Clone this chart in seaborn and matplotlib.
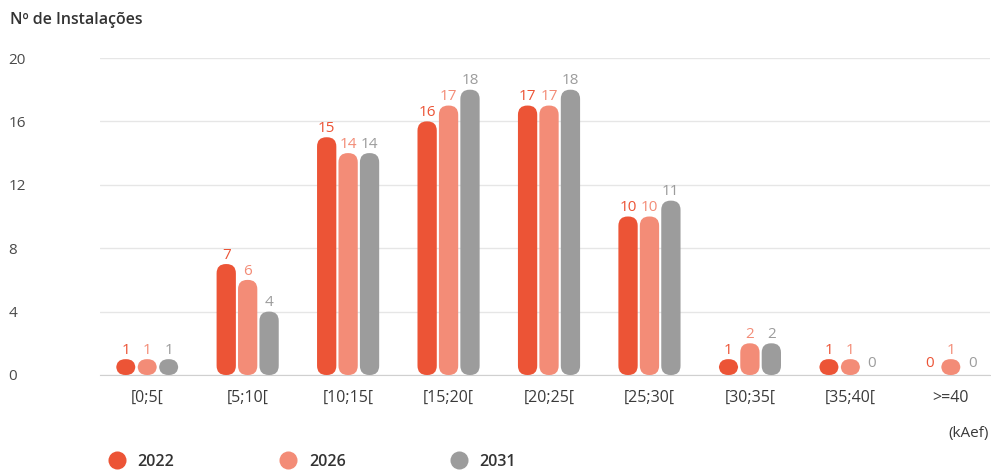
import matplotlib
matplotlib.use("Agg")
import matplotlib.pyplot as plt
from matplotlib.patches import FancyBboxPatch
from matplotlib.lines import Line2D
import seaborn as sns
import pandas as pd

categories = ["[0;5[", "[5;10[", "[10;15[", "[15;20[", "[20;25[", "[25;30[", "[30;35[", "[35;40[", ">=40"]
series_names = ["2022", "2026", "2031"]
v2022 = [1, 7, 15, 16, 17, 10, 1, 1, 0]
v2026 = [1, 6, 14, 17, 17, 10, 2, 1, 1]
v2031 = [1, 4, 14, 18, 18, 11, 2, 0, 0]
yticks = [0, 4, 8, 12, 16, 20]
colors = ["#EC5436", "#F38C77", "#9C9C9C"]

values = {"2022": v2022, "2026": v2026, "2031": v2031}
df = pd.DataFrame([
    {"cat": c, "ano": s, "n": values[s][i]}
    for s in series_names for i, c in enumerate(categories)
])

sns.set_style("white")
plt.rcParams["font.family"] = ["Open Sans", "DejaVu Sans"]

fig = plt.figure(figsize=(9.91, 4.72), dpi=100)
ax = fig.add_axes([100 / 991, 1 - 375 / 472, 890 / 991, 317 / 472])

sns.barplot(data=df, x="cat", y="n", hue="ano", order=categories,
            hue_order=series_names, palette=colors, width=0.64, gap=0.1,
            ax=ax, legend=False, saturation=1)

ax.set_xlim(-0.47, 8.39)
ax.set_ylim(0, 20)

# replace bars with rounded versions
xpx = 890 / (8.39 + 0.47)
ypx = 317 / 20
aspect = xpx / ypx
patches = list(ax.patches)
for k, p in enumerate(patches):
    s_idx = k // len(categories)
    c_idx = k % len(categories)
    x0, w, h = p.get_x(), p.get_width(), p.get_height()
    val = values[series_names[s_idx]][c_idx]
    color = colors[s_idx]
    p.remove()
    if h > 0:
        r = w * 0.48
        fb = FancyBboxPatch((x0, 0), w, h,
                            boxstyle=f"round,pad=0,rounding_size={r}",
                            mutation_aspect=aspect,
                            facecolor=color, edgecolor="none", zorder=3)
        ax.add_patch(fb)
    off = 1.0 if val > 0 else 3
    ax.annotate(str(val), (x0 + w / 2, val), xytext=(0, off),
                textcoords="offset points", ha="center", va="bottom",
                color=color, fontsize=11, zorder=4)

ax.set_yticks(yticks)
ax.yaxis.grid(True, color="#e6e6e6", linewidth=1)
ax.set_axisbelow(True)
for sp in ["top", "right", "left"]:
    ax.spines[sp].set_visible(False)
ax.spines["bottom"].set_color("#d0d0d0")
ax.tick_params(axis="y", length=0, pad=66, labelsize=11, labelcolor="#4a4a4a")
for t in ax.get_yticklabels():
    t.set_horizontalalignment("left")
ax.tick_params(axis="x", length=0, pad=11, labelsize=11.5, labelcolor="#3a3a3a")
ax.set_xlabel("")
ax.set_ylabel("")

fig.text(10 / 991, 1 - 20 / 472, "Nº de Instalações", fontsize=11.5,
         fontweight="semibold", color="#333333", va="center", ha="left")
fig.text(989 / 991, 1 - 433 / 472, "(kAef)", fontsize=11,
         color="#3a3a3a", va="center", ha="right")

handles = [Line2D([], [], marker="o", linestyle="none", markersize=13,
                  markerfacecolor=c, markeredgecolor="none") for c in colors]
leg = fig.legend(handles, series_names, loc="center left",
                 bbox_to_anchor=(109 / 991, 1 - 462 / 472), ncol=3,
                 frameon=False, handletextpad=0.8, columnspacing=6.6,
                 prop={"weight": "semibold", "size": 11.5}, borderaxespad=0,
                 borderpad=0, handlelength=1.0)
for t in leg.get_texts():
    t.set_color("#333333")

fig.savefig("out.png", dpi=100)
